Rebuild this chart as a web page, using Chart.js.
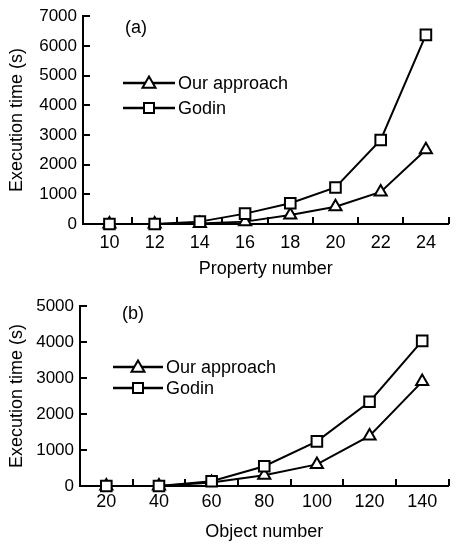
<!DOCTYPE html>
<html>
<head>
<meta charset="utf-8">
<script src="https://cdn.jsdelivr.net/npm/chart.js@4.4.1/dist/chart.umd.min.js"></script>
<style>
  body { margin: 0; background: #fff; }
  canvas { display: block; }
</style>
</head>
<body>
<canvas id="chart_a" width="458" height="280"></canvas>
<canvas id="chart_b" width="458" height="265"></canvas>
<script>
// (a) execution time vs property number
var propNumbers = [10, 12, 14, 16, 18, 20, 22, 24];
var oursA = [0, 0, 20, 80, 300, 580, 1080, 2500];
var godinA = [0, 0, 80, 350, 700, 1230, 2830, 6370];
var yTicksA = [0, 1000, 2000, 3000, 4000, 5000, 6000, 7000];
var xMarksA = [11, 13, 15, 17, 19, 21, 23, 25];

// (b) execution time vs object number
var objNumbers = [20, 40, 60, 80, 100, 120, 140];
var oursB = [0, 0, 100, 300, 600, 1390, 2900];
var godinB = [0, 0, 130, 550, 1240, 2340, 4030];
var yTicksB = [0, 1000, 2000, 3000, 4000, 5000];
var xMarksB = [30, 50, 70, 90, 110, 130, 150];

var seriesNames = ['Our approach', 'Godin'];
var font_family = '"Liberation Sans", Arial, sans-serif';

function drawTri(ctx, x, y, r) {
  ctx.beginPath();
  ctx.moveTo(x, y - r);
  ctx.lineTo(x + r * 0.866, y + r / 2);
  ctx.lineTo(x - r * 0.866, y + r / 2);
  ctx.closePath();
  ctx.fill();
  ctx.stroke();
}

function drawSq(ctx, x, y, s) {
  ctx.fillRect(x - s / 2, y - s / 2, s, s);
  ctx.strokeRect(x - s / 2, y - s / 2, s, s);
}

// inward tick marks, panel tag and the line+marker legend
function makeDeco(d) {
  return {
    id: 'deco',
    afterDraw: function (chart) {
      var ctx = chart.ctx;
      var xs = chart.scales.x, ys = chart.scales.y;
      var area = chart.chartArea;
      ctx.save();
      ctx.strokeStyle = '#000';
      ctx.lineWidth = 2;
      ctx.beginPath();
      for (var k = 0; k < d.xMarks.length; k++) {
        var px = Math.round(xs.getPixelForValue(d.xMarks[k]));
        ctx.moveTo(px, area.bottom);
        ctx.lineTo(px, area.bottom - 7);
      }
      for (var j = 1; j < d.yMarks.length; j++) {
        var py = Math.round(ys.getPixelForValue(d.yMarks[j]));
        ctx.moveTo(area.left, py);
        ctx.lineTo(area.left + 7, py);
      }
      ctx.stroke();

      ctx.fillStyle = '#000';
      ctx.font = '18px ' + font_family;
      ctx.textBaseline = 'middle';
      ctx.textAlign = 'left';
      ctx.fillText(d.tag, d.tagX, d.tagY);

      for (var i = 0; i < 2; i++) {
        var y = d.legY + i * d.legGap;
        ctx.strokeStyle = '#000';
        ctx.lineWidth = 2.5;
        ctx.beginPath();
        ctx.moveTo(d.legX, y);
        ctx.lineTo(d.legX + d.legLen, y);
        ctx.stroke();
        ctx.fillStyle = '#fff';
        ctx.lineWidth = 2;
        var mx = d.legX + d.legLen / 2;
        if (i === 0) drawTri(ctx, mx, y + 1, 7.5);
        else drawSq(ctx, mx, y, 10);
        ctx.fillStyle = '#000';
        ctx.fillText(seriesNames[i], d.legX + d.legLen + 3, y + 1);
      }
      ctx.restore();
    }
  };
}

function plain(v) { return String(v); }

function make_chart(id, xs, ours, godin, cfg) {
  var ctx = document.getElementById(id).getContext('2d');
  var toPoints = function (arr) {
    return arr.map(function (v, i) { return { x: xs[i], y: v }; });
  };
  return new Chart(ctx, {
    type: 'line',
    data: {
      datasets: [{
        label: seriesNames[0],
        data: toPoints(ours),
        borderColor: '#000',
        borderWidth: 2,
        pointStyle: 'triangle',
        pointRadius: 7,
        pointBorderWidth: 2,
        pointBackgroundColor: '#fff',
        pointBorderColor: '#000',
        order: 1,
        clip: false
      }, {
        label: seriesNames[1],
        data: toPoints(godin),
        borderColor: '#000',
        borderWidth: 2,
        pointStyle: 'rect',
        pointRadius: 7.5,
        pointBorderWidth: 2,
        pointBackgroundColor: '#fff',
        pointBorderColor: '#000',
        order: 0,
        clip: false
      }]
    },
    options: {
      responsive: false,
      animation: false,
      layout: { padding: { top: cfg.top, right: 2, left: 0, bottom: 0 } },
      plugins: {
        legend: { display: false },
        tooltip: { enabled: false }
      },
      scales: {
        x: {
          type: 'linear',
          min: cfg.xMin,
          max: cfg.xMax,
          afterBuildTicks: function (scale) {
            scale.ticks = xs.map(function (v) { return { value: v }; });
          },
          afterFit: function (scale) { scale.height = cfg.xHeight; },
          grid: { drawOnChartArea: false, drawTicks: false },
          border: { color: '#000', width: 2 },
          ticks: {
            color: '#000',
            padding: cfg.xPad,
            maxRotation: 0,
            callback: plain,
            font: { family: font_family, size: 18 }
          },
          title: {
            display: true,
            text: cfg.xTitle,
            color: '#000',
            padding: { top: 0, bottom: cfg.xTitlePad },
            font: { family: font_family, size: 18 }
          }
        },
        y: {
          min: 0,
          max: cfg.yMax,
          afterBuildTicks: function (scale) {
            scale.ticks = cfg.yTicks.map(function (v) { return { value: v }; });
          },
          afterFit: function (scale) { scale.width = cfg.yWidth; },
          grid: { drawOnChartArea: false, drawTicks: false },
          border: { color: '#000', width: 2 },
          ticks: {
            color: '#000',
            padding: 6,
            callback: plain,
            font: { family: font_family, size: 17 }
          },
          title: {
            display: true,
            text: 'Execution time (s)',
            color: '#000',
            padding: { top: 6, bottom: 0 },
            font: { family: font_family, size: 18 }
          }
        }
      }
    },
    plugins: [makeDeco(cfg.deco)]
  });
}

make_chart('chart_a', propNumbers, oursA, godinA, {
  top: 14, xMin: 8.83, xMax: 25, xHeight: 56, xPad: 8, xTitlePad: 0,
  xTitle: 'Property number', yMax: 7000, yTicks: yTicksA, yWidth: 83,
  deco: { xMarks: xMarksA, yMarks: yTicksA, tag: '(a)', tagX: 125, tagY: 28,
          legX: 123, legY: 83, legGap: 25, legLen: 52 }
});

make_chart('chart_b', objNumbers, oursB, godinB, {
  top: 26, xMin: 10, xMax: 150, xHeight: 59, xPad: 5, xTitlePad: 2,
  xTitle: 'Object number', yMax: 5000, yTicks: yTicksB, yWidth: 80,
  deco: { xMarks: xMarksB, yMarks: yTicksB, tag: '(b)', tagX: 122, tagY: 34,
          legX: 113, legY: 87, legGap: 21, legLen: 50 }
});
</script>
</body>
</html>
